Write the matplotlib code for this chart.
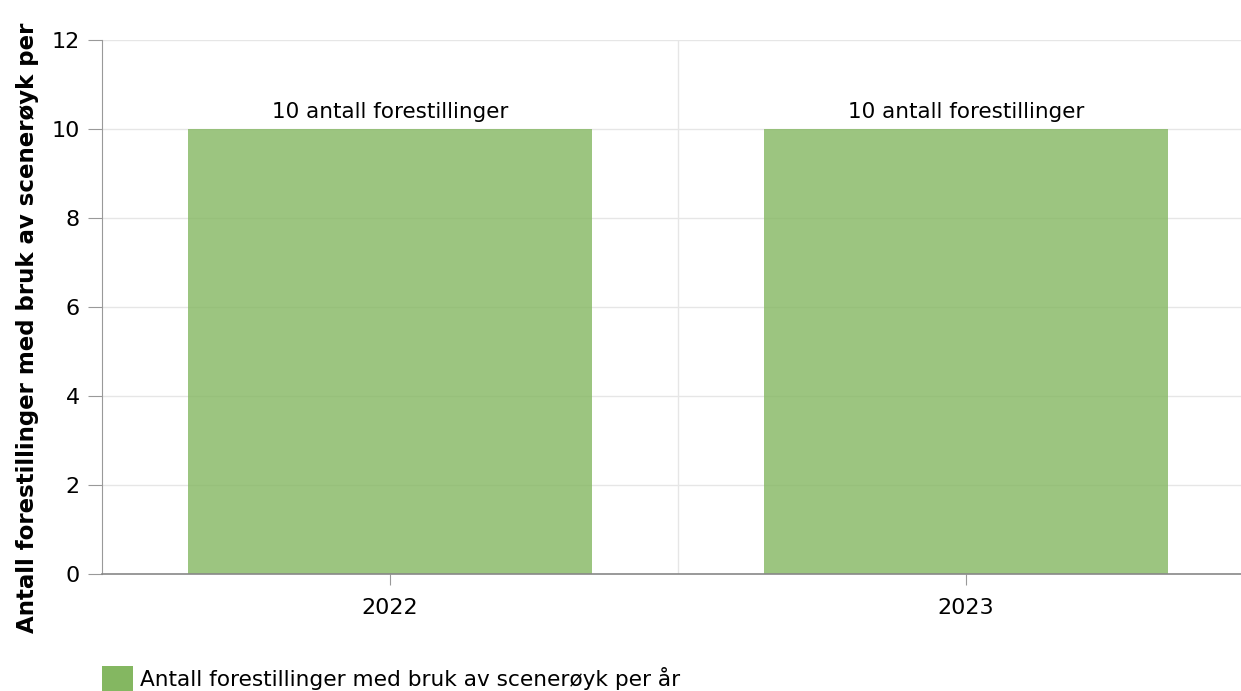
import matplotlib.pyplot as plt
from matplotlib.patches import Patch

years = ['2022', '2023']
values = [10, 10]
bar_labels = ['10 antall forestillinger', '10 antall forestillinger']
series_name = 'Antall forestillinger med bruk av scenerøyk per år'
y_title = 'Antall forestillinger med bruk av scenerøyk per'

plt.rcParams['font.family'] = ['DejaVu Sans']

fig = plt.figure(figsize=(12.41, 6.91), dpi=100)
ax = fig.add_axes([102 / 1241, 1 - 574 / 691, (1241 - 102) / 1241, (574 - 40) / 691])

x = list(range(len(years)))
bars = ax.bar(x, values, width=0.70, color='#84b761', alpha=0.8, zorder=2)
for b, lab in zip(bars, bar_labels):
    ax.text(b.get_x() + b.get_width() / 2, b.get_height() + 0.15, lab,
            ha='center', va='bottom', fontsize=15.5, color='black')

ax.set_xlim(-0.5, -0.5 + (1241 - 102) / 576)
ax.set_ylim(0, 12)
ax.set_yticks(range(0, 13, 2))
ax.set_xticks(x)
ax.set_xticklabels(years)

# grid
ax.yaxis.grid(True, color='#e6e6e6', linewidth=1, zorder=0)
ax.axvline(0.5, color='#e6e6e6', linewidth=1, zorder=0)

for side in ['top', 'right']:
    ax.spines[side].set_visible(False)
ax.spines['left'].set_color('#999999')
ax.spines['bottom'].set_color('#888888')
ax.spines['bottom'].set_linewidth(1.2)
ax.tick_params(axis='y', length=10, color='#999999', labelsize=16, pad=6)
ax.tick_params(axis='x', length=8, color='#999999', labelsize=16, pad=9)

fig.text(28 / 1241, 1 - 328 / 691, y_title, rotation=90, ha='center', va='center',
         fontsize=16.5, fontweight='bold')

handle = Patch(facecolor='#84b761', edgecolor='none')
fig.legend([handle], [series_name], loc='lower left', bbox_to_anchor=(93 / 1241, -0.014),
           frameon=False, fontsize=15.6, handlelength=1.45, handleheight=1.45,
           handletextpad=0.3, borderaxespad=0)

fig.savefig('out.png', dpi=100)
